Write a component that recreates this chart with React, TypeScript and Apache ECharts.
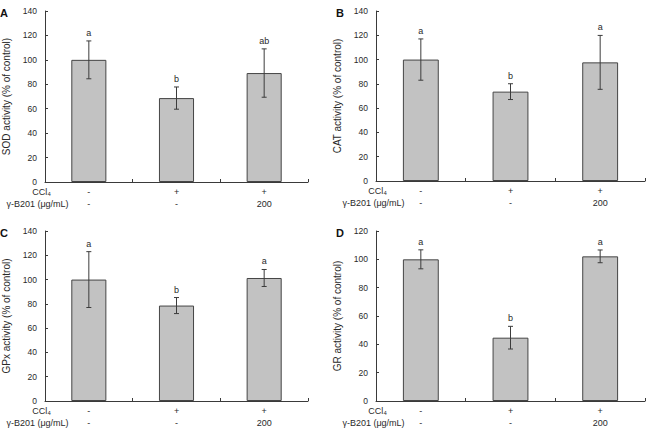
import React, { useEffect, useRef } from "react";
import * as echarts from "echarts";

// Treatment groups and the two rows printed under each x axis
const categories = ["Control", "CCl4", "CCl4 + γ-B201"];
const ccl4Row = ["-", "+", "+"];
const doseRow = ["-", "-", "200"];

// SOD activity (% of control)
const sodMean = [100, 68.7, 89.2];
const sodSd = [15.5, 9.1, 19.8];
const sodLetters = ["a", "b", "ab"];

// CAT activity (% of control)
const catMean = [100, 73.6, 97.7];
const catSd = [17, 6.5, 22.2];
const catLetters = ["a", "b", "a"];

// GPx activity (% of control)
const gpxMean = [100, 78.6, 101.3];
const gpxSd = [23, 6.6, 7];
const gpxLetters = ["a", "b", "a"];

// GR activity (% of control)
const grMean = [100, 44.7, 102.1];
const grSd = [6.7, 8, 4.5];
const grLetters = ["a", "b", "a"];

const yTicks140 = { min: 0, max: 140, interval: 20 };
const yTicks120 = { min: 0, max: 120, interval: 20 };

const FONT = "Liberation Sans, Arial, Helvetica, sans-serif";
const TEXT = "#2a2a2a";
const AXIS = "#3a3a3a";

type Panel = {
  tag: string;
  yName: string;
  mean: number[];
  sd: number[];
  letters: string[];
  ticks: { min: number; max: number; interval: number };
  grid: { left: number; top: number; width: number; height: number };
};

const panels: Panel[] = [
  { tag: "A", yName: "SOD activity (% of control)", mean: sodMean, sd: sodSd, letters: sodLetters, ticks: yTicks140, grid: { left: 40, top: 11, width: 268, height: 171 } },
  { tag: "B", yName: "CAT activity (% of control)", mean: catMean, sd: catSd, letters: catLetters, ticks: yTicks140, grid: { left: 376, top: 11, width: 269, height: 170 } },
  { tag: "C", yName: "GPx activity (% of control)", mean: gpxMean, sd: gpxSd, letters: gpxLetters, ticks: yTicks140, grid: { left: 40, top: 231, width: 268, height: 170 } },
  { tag: "D", yName: "GR activity (% of control)", mean: grMean, sd: grSd, letters: grLetters, ticks: yTicks120, grid: { left: 376, top: 231, width: 269, height: 170 } },
];

function buildOption() {
  const grid: any[] = [];
  const xAxis: any[] = [];
  const yAxis: any[] = [];
  const series: any[] = [];
  const graphic: any[] = [];

  panels.forEach((p, k) => {
    grid.push({ ...p.grid, containLabel: false });
    xAxis.push({
      type: "category",
      gridIndex: k,
      data: categories,
      boundaryGap: true,
      axisLine: { lineStyle: { color: AXIS, width: 1 } },
      axisTick: { show: true, inside: true, length: 3, lineStyle: { color: AXIS } },
      axisLabel: {
        interval: 0,
        margin: 4,
        fontSize: 9,
        lineHeight: 12,
        color: TEXT,
        fontFamily: FONT,
        formatter: (_v: string, i: number) => `${ccl4Row[i]}\n${doseRow[i]}`,
      },
      splitLine: { show: false },
    });
    yAxis.push({
      type: "value",
      gridIndex: k,
      min: p.ticks.min,
      max: p.ticks.max,
      interval: p.ticks.interval,
      name: p.yName,
      nameLocation: "middle",
      nameRotate: 90,
      nameGap: 34,
      nameTextStyle: { fontSize: 10, color: TEXT, fontFamily: FONT },
      axisLine: { show: true, lineStyle: { color: AXIS, width: 1 } },
      axisTick: { show: true, inside: true, length: 3, lineStyle: { color: AXIS } },
      axisLabel: { fontSize: 8.5, color: TEXT, fontFamily: FONT, margin: 8 },
      splitLine: { show: false },
    });
    series.push({
      type: "bar",
      xAxisIndex: k,
      yAxisIndex: k,
      data: p.mean,
      barWidth: "40%",
      itemStyle: { color: "#c2c2c2", borderColor: "#454545", borderWidth: 1 },
      z: 2,
    });
    series.push({
      type: "custom",
      xAxisIndex: k,
      yAxisIndex: k,
      data: p.mean.map((m, i) => [i, m, p.sd[i]]),
      encode: { x: 0, y: 1 },
      z: 3,
      renderItem: (params: any, api: any) => {
        const i = api.value(0);
        const m = api.value(1);
        const s = api.value(2);
        const top = api.coord([i, m + s]);
        const bot = api.coord([i, m - s]);
        const cap = 2.5;
        const ls = { stroke: "#3c3c3c", lineWidth: 1 };
        return {
          type: "group",
          children: [
            { type: "line", shape: { x1: top[0], y1: top[1], x2: bot[0], y2: bot[1] }, style: ls },
            { type: "line", shape: { x1: top[0] - cap, y1: top[1], x2: top[0] + cap, y2: top[1] }, style: ls },
            { type: "line", shape: { x1: bot[0] - cap, y1: bot[1], x2: bot[0] + cap, y2: bot[1] }, style: ls },
            {
              type: "text",
              x: top[0],
              y: top[1] - 8,
              style: {
                text: p.letters[params.dataIndex],
                fill: TEXT,
                fontSize: 9,
                fontFamily: FONT,
                align: "center",
                verticalAlign: "middle",
              },
            },
          ],
        };
      },
    });

    const axisY = p.grid.top + p.grid.height;
    graphic.push({
      type: "text",
      x: p.grid.left - 40,
      y: p.grid.top + 2,
      style: { text: p.tag, fontSize: 11, fontWeight: "bold", fill: "#111", fontFamily: FONT, align: "left", verticalAlign: "middle" },
    });
    graphic.push({
      type: "text",
      x: p.grid.left + 1.5,
      y: axisY + 10,
      style: { text: "CCl₄", fontSize: 9, fill: TEXT, fontFamily: FONT, align: "center", verticalAlign: "middle" },
    });
    graphic.push({
      type: "text",
      x: p.grid.left - 2.5,
      y: axisY + 22,
      style: { text: "γ-B201 (μg/mL)", fontSize: 9, fill: TEXT, fontFamily: FONT, align: "center", verticalAlign: "middle" },
    });
  });

  return {
    animation: false,
    backgroundColor: "#ffffff",
    textStyle: { fontFamily: FONT },
    grid,
    xAxis,
    yAxis,
    series,
    graphic,
  };
}

export default function App() {
  const ref = useRef<HTMLDivElement>(null);
  useEffect(() => {
    document.body.style.margin = "0";
    if (!ref.current) return;
    const chart = echarts.init(ref.current, undefined, { renderer: "svg" });
    chart.setOption(buildOption());
    return () => chart.dispose();
  }, []);
  return <div ref={ref} style={{ width: 648, height: 430 }} />;
}
